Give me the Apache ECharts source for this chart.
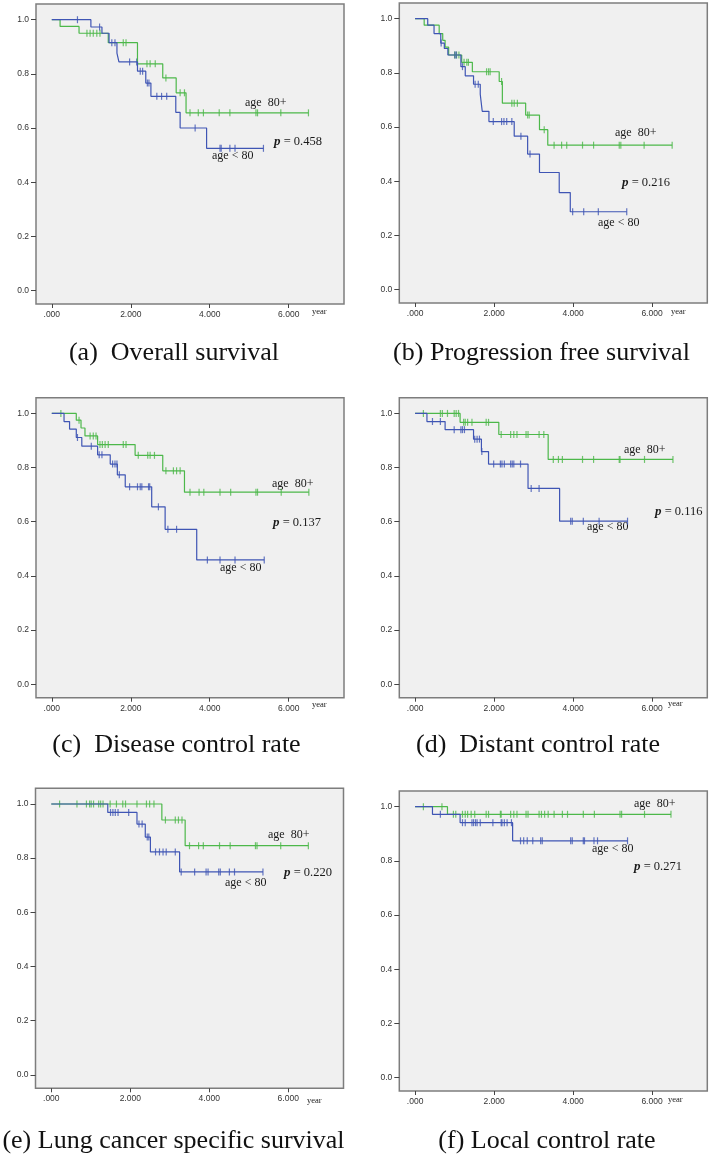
<!DOCTYPE html>
<html>
<head>
<meta charset="utf-8">
<script src="https://cdn.jsdelivr.net/npm/echarts@6/dist/echarts.min.js"></script>
<style>
  html, body { margin: 0; padding: 0; background: #fff; }
  #main { width: 709px; height: 1159px; }
</style>
</head>
<body>
<div id="main"></div>
<script>
// tick values shared by every panel
const xTicks = [0, 2, 4, 6];
const yTicks = [0, 0.2, 0.4, 0.6, 0.8, 1.0];

// (a) overall survival: event times (years), survival after event, censor times
const osOldTimes = [0.21, 0.69, 1.43, 2.17, 2.81, 3.15, 3.40];
const osOldSurv = [0.975, 0.95, 0.915, 0.837, 0.785, 0.73, 0.656];
const osOldCens = [0.89, 0.97, 1.05, 1.14, 1.22, 1.81, 1.88, 2.41, 2.49, 2.62, 2.89, 3.25, 3.36, 3.50, 3.71, 3.84, 4.24, 4.51, 5.17, 5.21, 5.80, 6.50];
const osYoungTimes = [0.99, 1.27, 1.45, 1.65, 1.70, 2.17, 2.38, 2.51, 3.14, 3.25, 3.92];
const osYoungSurv = [0.973, 0.95, 0.915, 0.877, 0.844, 0.81, 0.766, 0.717, 0.658, 0.60, 0.525];
const osYoungCens = [0.65, 1.21, 1.52, 1.60, 1.97, 2.15, 2.24, 2.30, 2.42, 2.46, 2.66, 2.78, 2.91, 3.63, 4.26, 4.29, 4.51, 4.64, 5.36];

// (b) progression free survival
const pfsOldTimes = [0.23, 0.61, 0.70, 0.76, 0.85, 1.18, 1.45, 2.13, 2.21, 2.80, 3.15, 3.36];
const pfsOldSurv = [0.976, 0.945, 0.92, 0.895, 0.866, 0.839, 0.804, 0.768, 0.688, 0.644, 0.59, 0.533];
const pfsOldCens = [1.00, 1.05, 1.11, 1.24, 1.31, 1.35, 1.81, 1.86, 1.90, 2.19, 2.45, 2.51, 2.59, 2.85, 2.89, 3.27, 3.52, 3.71, 3.84, 4.24, 4.52, 5.17, 5.21, 5.80, 6.51];
const pfsYoungTimes = [0.32, 0.48, 0.65, 0.74, 0.83, 1.16, 1.27, 1.48, 1.65, 1.70, 1.87, 2.51, 2.85, 3.15, 3.65, 3.93];
const pfsYoungSurv = [0.976, 0.945, 0.91, 0.89, 0.866, 0.823, 0.789, 0.758, 0.721, 0.658, 0.62, 0.566, 0.50, 0.432, 0.358, 0.287];
const pfsYoungCens = [0.66, 1.01, 1.04, 1.20, 1.52, 1.60, 1.98, 2.19, 2.25, 2.32, 2.45, 2.68, 2.91, 3.99, 4.27, 4.64, 5.36];

// (c) disease control rate
const dcOldTimes = [0.62, 0.74, 0.84, 1.16, 2.11, 2.81, 3.36];
const dcOldSurv = [0.975, 0.946, 0.917, 0.885, 0.845, 0.788, 0.709];
const dcOldCens = [0.23, 0.69, 0.97, 1.05, 1.12, 1.22, 1.28, 1.35, 1.43, 1.81, 1.88, 2.19, 2.43, 2.49, 2.60, 2.89, 3.08, 3.16, 3.25, 3.50, 3.73, 3.85, 4.26, 4.53, 5.17, 5.21, 5.81, 6.51];
const dcYoungTimes = [0.31, 0.45, 0.62, 0.76, 1.16, 1.48, 1.66, 1.86, 2.53, 2.87, 3.67];
const dcYoungSurv = [0.97, 0.942, 0.911, 0.879, 0.847, 0.813, 0.773, 0.729, 0.655, 0.572, 0.459];
const dcYoungCens = [0.65, 1.00, 1.20, 1.27, 1.54, 1.60, 1.65, 1.71, 1.97, 2.17, 2.24, 2.28, 2.45, 2.48, 2.70, 2.94, 3.16, 3.94, 4.26, 4.64, 5.38];

// (d) distant control rate
const distOldTimes = [1.14, 2.12, 3.37];
const distOldSurv = [0.967, 0.922, 0.83];
const distOldCens = [0.21, 0.64, 0.69, 0.82, 0.99, 1.04, 1.10, 1.23, 1.27, 1.33, 1.44, 1.80, 1.86, 2.18, 2.42, 2.50, 2.58, 2.81, 2.86, 3.14, 3.26, 3.50, 3.63, 3.73, 4.24, 4.52, 5.17, 5.19, 5.81, 6.53];
const distYoungTimes = [0.30, 0.76, 1.48, 1.68, 1.86, 2.86, 3.66];
const distYoungSurv = [0.97, 0.94, 0.905, 0.859, 0.813, 0.723, 0.602];
const distYoungCens = [0.44, 0.64, 0.99, 1.16, 1.20, 1.25, 1.51, 1.57, 1.63, 1.69, 1.99, 2.16, 2.20, 2.26, 2.42, 2.46, 2.50, 2.67, 2.94, 3.14, 3.94, 3.98, 4.26, 4.66, 5.38];

// (e) lung cancer specific survival
const lcOldTimes = [2.80, 3.39];
const lcOldSurv = [0.941, 0.846];
const lcOldCens = [0.21, 0.65, 0.89, 0.97, 1.01, 1.07, 1.20, 1.25, 1.31, 1.49, 1.65, 1.81, 1.88, 2.17, 2.41, 2.49, 2.60, 2.89, 3.14, 3.22, 3.31, 3.50, 3.73, 3.85, 4.26, 4.53, 5.17, 5.21, 5.81, 6.51];
const lcYoungTimes = [1.43, 2.17, 2.38, 2.51, 3.25];
const lcYoungSurv = [0.969, 0.926, 0.878, 0.823, 0.749];
const lcYoungCens = [1.50, 1.56, 1.62, 1.69, 1.96, 2.22, 2.30, 2.43, 2.47, 2.64, 2.74, 2.83, 2.91, 3.14, 3.29, 3.63, 3.92, 3.97, 4.24, 4.28, 4.51, 4.64, 5.36];

// (f) local control rate
const locOldTimes = [0.82];
const locOldSurv = [0.972];
const locOldCens = [0.21, 0.68, 0.97, 1.03, 1.20, 1.27, 1.33, 1.42, 1.51, 1.80, 1.86, 2.16, 2.18, 2.42, 2.50, 2.58, 2.81, 2.86, 3.14, 3.20, 3.28, 3.37, 3.52, 3.73, 3.86, 4.26, 4.54, 5.19, 5.23, 5.81, 6.48];
const locYoungTimes = [0.44, 1.14, 2.47];
const locYoungSurv = [0.972, 0.941, 0.874];
const locYoungCens = [0.64, 1.20, 1.27, 1.44, 1.48, 1.53, 1.57, 1.65, 1.97, 2.18, 2.20, 2.26, 2.33, 2.44, 2.67, 2.75, 2.84, 2.98, 3.18, 3.22, 3.94, 3.98, 4.26, 4.29, 4.53, 4.62, 5.38];

const captions = ['(a)  Overall survival', '(b) Progression free survival', '(c)  Disease control rate',
                  '(d)  Distant control rate', '(e) Lung cancer specific survival', '(f) Local control rate'];
const pValues = ['0.458', '0.216', '0.137', '0.116', '0.220', '0.271'];

const GREEN = '#4cb84a';
const BLUE = '#3f55b4';

// layout of each panel (frame position, label positions)
const layout = [
  { left: 36,    top: 4,     capX: 174,   capY: 353,  yearX: 312, yearY: 312,
    old: [245, 103], young: [212, 156], p: [274, 142] },
  { left: 399.3, top: 3,     capX: 541.5, capY: 353,  yearX: 671, yearY: 312,
    old: [615, 133], young: [598, 223], p: [622, 183] },
  { left: 36,    top: 397.7, capX: 176.5, capY: 745,  yearX: 312, yearY: 705,
    old: [272, 484], young: [220, 568], p: [273, 523] },
  { left: 399.3, top: 397.7, capX: 538,   capY: 745,  yearX: 668, yearY: 704,
    old: [624, 450], young: [587, 527], p: [655, 512] },
  { left: 35.5,  top: 788.3, capX: 173.5, capY: 1141, yearX: 307, yearY: 1101,
    old: [268, 835], young: [225, 883], p: [284, 873] },
  { left: 399.3, top: 791,   capX: 547,   capY: 1141, yearX: 668, yearY: 1100,
    old: [634, 804], young: [592, 849], p: [634, 867] }
];

const curves = [
  [osOldTimes, osOldSurv, osOldCens, osYoungTimes, osYoungSurv, osYoungCens],
  [pfsOldTimes, pfsOldSurv, pfsOldCens, pfsYoungTimes, pfsYoungSurv, pfsYoungCens],
  [dcOldTimes, dcOldSurv, dcOldCens, dcYoungTimes, dcYoungSurv, dcYoungCens],
  [distOldTimes, distOldSurv, distOldCens, distYoungTimes, distYoungSurv, distYoungCens],
  [lcOldTimes, lcOldSurv, lcOldCens, lcYoungTimes, lcYoungSurv, lcYoungCens],
  [locOldTimes, locOldSurv, locOldCens, locYoungTimes, locYoungSurv, locYoungCens]
];

// step curve points, running out to the last censored case
function kmLine(times, surv, cens) {
  const end = Math.max(times[times.length - 1], ...cens);
  const pts = [[0, 1]];
  times.forEach((t, i) => pts.push([t, surv[i]]));
  pts.push([end, surv[surv.length - 1]]);
  return pts;
}
function survAt(times, surv, t) {
  let s = 1;
  times.forEach((ti, i) => { if (ti <= t) s = surv[i]; });
  return s;
}
function censMarks(times, surv, cens) {
  return cens.map(t => [t, survAt(times, surv, t)]);
}

const grids = [], xAxes = [], yAxes = [], series = [], graphics = [];
const serif = 'Liberation Serif';

layout.forEach((L, i) => {
  grids.push({
    left: L.left, top: L.top, width: 308, height: 300,
    show: true, backgroundColor: '#f0f0f0', borderColor: '#7d7d7d', borderWidth: 1.5
  });
  xAxes.push({
    gridIndex: i, type: 'value', min: -0.4, max: 7.4,
    axisLine: { show: false, onZero: false },
    splitLine: { show: false },
    axisTick: { show: true, customValues: xTicks, length: 4, lineStyle: { color: '#444' } },
    axisLabel: {
      customValues: xTicks, margin: 6, fontSize: 8.5, color: '#333', fontFamily: 'Liberation Sans',
      formatter: v => (v === 0 ? '.000' : v.toFixed(3))
    }
  });
  yAxes.push({
    gridIndex: i, type: 'value', min: -0.05, max: 1.058,
    axisLine: { show: false, onZero: false },
    splitLine: { show: false },
    axisTick: { show: true, customValues: yTicks, length: 5, lineStyle: { color: '#444' } },
    axisLabel: {
      customValues: yTicks, margin: 7, fontSize: 8.5, color: '#333', fontFamily: 'Liberation Sans',
      formatter: v => v.toFixed(1)
    }
  });

  const c = curves[i];
  [[c[0], c[1], c[2], GREEN], [c[3], c[4], c[5], BLUE]].forEach(([t, s, cn, col]) => {
    series.push({
      type: 'line', xAxisIndex: i, yAxisIndex: i, step: 'end',
      data: kmLine(t, s, cn), symbol: 'none',
      lineStyle: { color: col, width: 1.2 }
    });
    series.push({
      type: 'scatter', xAxisIndex: i, yAxisIndex: i,
      data: censMarks(t, s, cn), symbol: 'rect', symbolSize: [1.2, 7],
      itemStyle: { color: col }
    });
  });

  const txt = (x, y, text, extra) => graphics.push({
    type: 'text', x: x, y: y,
    style: Object.assign({ text: text, fontFamily: serif, fontSize: 12, fill: '#1a1a1a', verticalAlign: 'middle' }, extra || {})
  });
  txt(L.old[0], L.old[1], 'age  80+');
  txt(L.young[0], L.young[1], 'age < 80');
  txt(L.p[0], L.p[1], '{p|p} = ' + pValues[i], {
    fontSize: 12.5,
    rich: { p: { fontFamily: serif, fontSize: 13, fontStyle: 'italic', fontWeight: 'bold', fill: '#1a1a1a' } }
  });
  txt(L.yearX, L.yearY, 'year', { fontSize: 8.5 });
  txt(L.capX, L.capY, captions[i], { fontSize: 26, fill: '#111', textAlign: 'center' });
});

const chart = echarts.init(document.getElementById('main'));
chart.setOption({
  animation: false,
  grid: grids,
  xAxis: xAxes,
  yAxis: yAxes,
  series: series,
  graphic: graphics
});
</script>
</body>
</html>
